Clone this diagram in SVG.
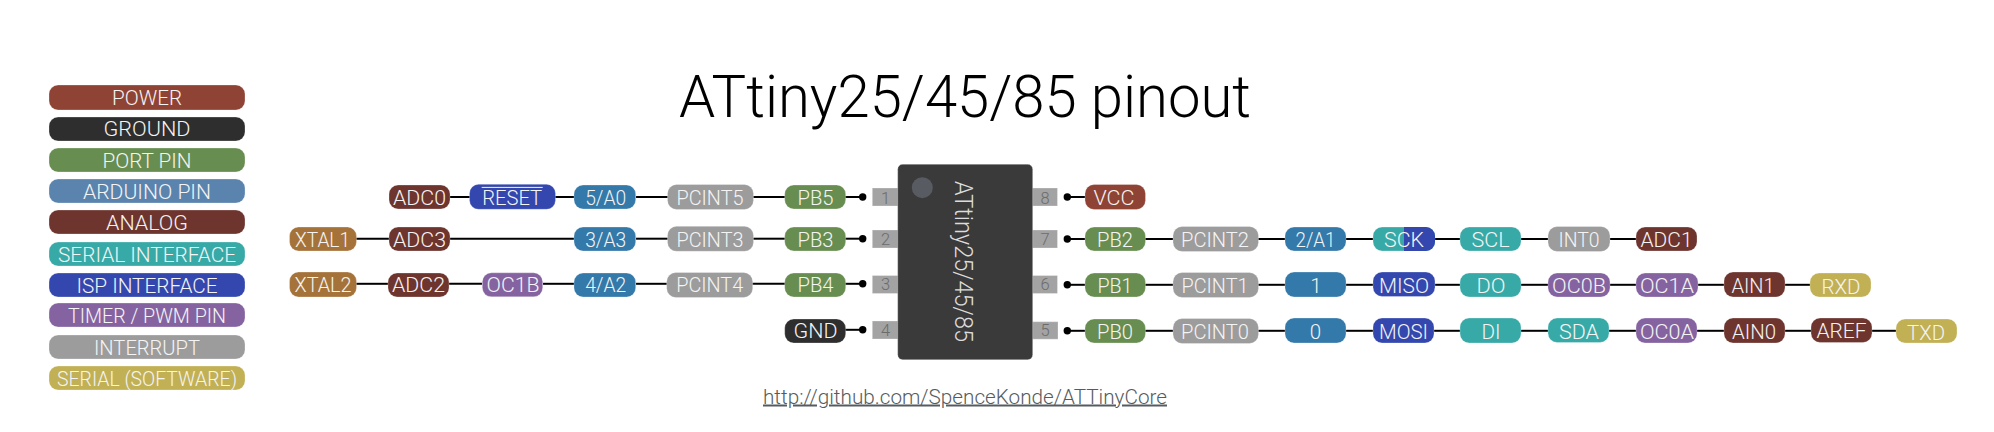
<svg xmlns="http://www.w3.org/2000/svg" width="1994" height="432" viewBox="0 0 1994 432">
<style>
text{font-family:"Roboto","Liberation Sans",sans-serif;font-weight:300}
.t{fill:#f4f4f4;font-size:20.5px;text-anchor:middle}
.l{fill:#f4f4f4;font-size:20px;text-anchor:middle}
rect{stroke:#fff;stroke-opacity:.28;stroke-width:1}
.pw{fill:#8f4335}.gn{fill:#2e2e2e}.pt{fill:#678e50}.ar{fill:#5a84ad}.ad{fill:#3379a9}.an{fill:#6e342e}.se{fill:#37aaa8}.is{fill:#3347ae}.ti{fill:#8563a1}.ir{fill:#9c9c9c}.so{fill:#c2b055}.xt{fill:#a57339}
.c line{stroke:#000;stroke-width:2}
.c circle{fill:#000}
.pin{fill:#a3a3a3}
.num{fill:#6c6c6c;font-size:16.5px;text-anchor:middle}
</style>
<g id="legend">
<g id="lg-power"><rect class="pw" x="49" y="85" width="196" height="25" rx="9"/><text class="l" x="147" y="105" textLength="70" lengthAdjust="spacingAndGlyphs">POWER</text></g>
<g id="lg-ground"><rect class="gn" x="49" y="117" width="196" height="24" rx="9"/><text class="l" x="147" y="136" textLength="87" lengthAdjust="spacingAndGlyphs">GROUND</text></g>
<g id="lg-port"><rect class="pt" x="49" y="148" width="196" height="24" rx="9"/><text class="l" x="147" y="167.500" textLength="89" lengthAdjust="spacingAndGlyphs">PORT PIN</text></g>
<g id="lg-arduino"><rect class="ar" x="49" y="179" width="196" height="24" rx="9"/><text class="l" x="147" y="199" textLength="128" lengthAdjust="spacingAndGlyphs">ARDUINO PIN</text></g>
<g id="lg-analog"><rect class="an" x="49" y="210" width="196" height="24" rx="9"/><text class="l" x="147" y="230" textLength="82" lengthAdjust="spacingAndGlyphs">ANALOG</text></g>
<g id="lg-serial"><rect class="se" x="49" y="242" width="196" height="24" rx="9"/><text class="l" x="147" y="261.500" textLength="178" lengthAdjust="spacingAndGlyphs">SERIAL INTERFACE</text></g>
<g id="lg-isp"><rect class="is" x="49" y="273" width="196" height="24" rx="9"/><text class="l" x="147" y="293" textLength="141" lengthAdjust="spacingAndGlyphs">ISP INTERFACE</text></g>
<g id="lg-timer"><rect class="ti" x="49" y="303" width="196" height="24" rx="9"/><text class="l" x="147" y="323" textLength="158" lengthAdjust="spacingAndGlyphs">TIMER / PWM PIN</text></g>
<g id="lg-interrupt"><rect class="ir" x="49" y="335" width="196" height="24" rx="9"/><text class="l" x="147" y="354.500" textLength="106" lengthAdjust="spacingAndGlyphs">INTERRUPT</text></g>
<g id="lg-software"><rect class="so" x="49" y="366" width="196" height="24" rx="9"/><text class="l" x="147" y="385.500" textLength="180" lengthAdjust="spacingAndGlyphs">SERIAL (SOFTWARE)</text></g>
</g>
<text id="title" x="679" y="117" font-size="60" fill="#000" textLength="572" lengthAdjust="spacingAndGlyphs">ATtiny25/45/85 pinout</text>
<g id="connectors" class="c">
<line x1="450" y1="197" x2="470" y2="197"/><line x1="555" y1="197" x2="574" y2="197"/><line x1="636" y1="197" x2="668" y2="197"/><line x1="753" y1="197" x2="785" y2="197"/><line x1="845" y1="197" x2="862" y2="197"/>
<line x1="356" y1="238.700" x2="389" y2="238.700"/><line x1="450" y1="238.700" x2="574" y2="238.700"/><line x1="636" y1="238.700" x2="668" y2="238.700"/><line x1="753" y1="238.700" x2="785" y2="238.700"/><line x1="845" y1="238.700" x2="862" y2="238.700"/>
<line x1="356" y1="283.800" x2="388" y2="283.800"/><line x1="449" y1="283.800" x2="482" y2="283.800"/><line x1="543" y1="283.800" x2="574" y2="283.800"/><line x1="636" y1="283.800" x2="667" y2="283.800"/><line x1="752" y1="283.800" x2="785" y2="283.800"/><line x1="845" y1="283.800" x2="862" y2="283.800"/>
<line x1="845" y1="329.800" x2="862" y2="329.800"/>
<circle cx="862.700" cy="197" r="3.700"/><circle cx="862.700" cy="238.700" r="3.700"/><circle cx="862.700" cy="283.800" r="3.700"/><circle cx="862.700" cy="329.800" r="3.700"/>
<line x1="1067" y1="197" x2="1085" y2="197"/>
<line x1="1067" y1="239" x2="1085" y2="239"/><line x1="1145" y1="239" x2="1173" y2="239"/><line x1="1258" y1="239" x2="1285" y2="239"/><line x1="1346" y1="239" x2="1373" y2="239"/><line x1="1435" y1="239" x2="1460" y2="239"/><line x1="1521" y1="239" x2="1548" y2="239"/><line x1="1610" y1="239" x2="1636" y2="239"/>
<line x1="1067" y1="284.800" x2="1085" y2="284.800"/><line x1="1145" y1="284.800" x2="1173" y2="284.800"/><line x1="1258" y1="284.800" x2="1285" y2="284.800"/><line x1="1346" y1="284.800" x2="1373" y2="284.800"/><line x1="1435" y1="284.800" x2="1460" y2="284.800"/><line x1="1521" y1="284.800" x2="1548" y2="284.800"/><line x1="1610" y1="284.800" x2="1636" y2="284.800"/><line x1="1698" y1="284.800" x2="1724" y2="284.800"/><line x1="1785" y1="284.800" x2="1810" y2="284.800"/>
<line x1="1067" y1="330.800" x2="1085" y2="330.800"/><line x1="1145" y1="330.800" x2="1173" y2="330.800"/><line x1="1258" y1="330.800" x2="1285" y2="330.800"/><line x1="1346" y1="330.800" x2="1373" y2="330.800"/><line x1="1434" y1="330.800" x2="1460" y2="330.800"/><line x1="1521" y1="330.800" x2="1548" y2="330.800"/><line x1="1609" y1="330.800" x2="1636" y2="330.800"/><line x1="1697" y1="330.800" x2="1724" y2="330.800"/><line x1="1785" y1="330.800" x2="1811" y2="330.800"/><line x1="1872" y1="330.800" x2="1896" y2="330.800"/>
<circle cx="1067.300" cy="197" r="3.700"/><circle cx="1067.300" cy="239" r="3.700"/><circle cx="1067.300" cy="284.800" r="3.700"/><circle cx="1067.300" cy="330.800" r="3.700"/>
</g>
<g id="chip">
<rect class="pin" x="872.300" y="188" width="26" height="18"/><rect class="pin" x="872.300" y="230" width="26" height="18"/><rect class="pin" x="872.300" y="275.500" width="26" height="18"/><rect class="pin" x="872.300" y="321" width="26" height="18"/>
<rect class="pin" x="1032" y="188" width="25.500" height="18"/><rect class="pin" x="1032" y="230" width="25.500" height="18"/><rect class="pin" x="1032" y="275.500" width="25.500" height="18"/><rect class="pin" x="1032" y="321.700" width="26" height="17.500"/>
<text class="num" x="885.500" y="204">1</text><text class="num" x="885.500" y="244.500">2</text><text class="num" x="885.500" y="290">3</text><text class="num" x="885.500" y="336">4</text>
<text class="num" x="1045" y="204">8</text><text class="num" x="1045" y="244.500">7</text><text class="num" x="1045" y="290">6</text><text class="num" x="1045" y="336">5</text>
<rect x="897.700" y="164.300" width="135" height="195.400" rx="5" fill="#3a3a3a"/>
<circle cx="922.300" cy="187.700" r="10.500" fill="#585c62"/>
<text transform="translate(955 181) rotate(90)" font-size="26.500" fill="#dcdcdc" textLength="161" lengthAdjust="spacingAndGlyphs">ATtiny25/45/85</text>
</g>
<g id="n-adc0"><rect class="an" x="389" y="185" width="61" height="24" rx="9"/><text class="t" x="419.500" y="205" textLength="53" lengthAdjust="spacingAndGlyphs">ADC0</text></g>
<g id="n-reset"><rect class="is" x="469.500" y="184.300" width="86" height="25" rx="9"/><line x1="481.700" y1="187.400" x2="542.700" y2="187.400" stroke="#f4f4f4" stroke-width="1"/><text class="t" x="512.200" y="205" textLength="60" lengthAdjust="spacingAndGlyphs">RESET</text></g>
<g id="n-5a0"><rect class="ad" x="574" y="185" width="61.700" height="24" rx="9"/><text class="t" x="605.700" y="205" textLength="41" lengthAdjust="spacingAndGlyphs">5/A0</text></g>
<g id="n-pcint5"><rect class="ir" x="667.500" y="184.500" width="86" height="25" rx="9"/><text class="t" x="710" y="205" textLength="67" lengthAdjust="spacingAndGlyphs">PCINT5</text></g>
<g id="n-pb5"><rect class="pt" x="784.700" y="185" width="61" height="24" rx="9"/><text class="t" x="815.500" y="205" textLength="36" lengthAdjust="spacingAndGlyphs">PB5</text></g>
<g id="n-xtal1"><rect class="xt" x="289.500" y="227" width="67" height="24" rx="9"/><text class="t" x="322.500" y="247" textLength="55" lengthAdjust="spacingAndGlyphs">XTAL1</text></g>
<g id="n-adc3"><rect class="an" x="389" y="227" width="61" height="24" rx="9"/><text class="t" x="419.500" y="247" textLength="53" lengthAdjust="spacingAndGlyphs">ADC3</text></g>
<g id="n-3a3"><rect class="ad" x="574" y="227" width="61.700" height="24" rx="9"/><text class="t" x="605.700" y="246.700" textLength="41" lengthAdjust="spacingAndGlyphs">3/A3</text></g>
<g id="n-pcint3"><rect class="ir" x="667.500" y="226.300" width="86" height="25" rx="9"/><text class="t" x="710" y="246.700" textLength="67" lengthAdjust="spacingAndGlyphs">PCINT3</text></g>
<g id="n-pb3"><rect class="pt" x="784.700" y="227" width="61" height="24" rx="9"/><text class="t" x="815.500" y="246.700" textLength="36" lengthAdjust="spacingAndGlyphs">PB3</text></g>
<g id="n-xtal2"><rect class="xt" x="289.500" y="272" width="67" height="25" rx="9"/><text class="t" x="323" y="292" textLength="57" lengthAdjust="spacingAndGlyphs">XTAL2</text></g>
<g id="n-adc2"><rect class="an" x="388" y="273" width="61" height="24" rx="9"/><text class="t" x="418.500" y="292.300" textLength="53" lengthAdjust="spacingAndGlyphs">ADC2</text></g>
<g id="n-oc1b"><rect class="ti" x="482.300" y="272.800" width="60.400" height="24" rx="9"/><text class="t" x="513" y="292.300" textLength="53" lengthAdjust="spacingAndGlyphs">OC1B</text></g>
<g id="n-4a2"><rect class="ad" x="574" y="273" width="61.700" height="24" rx="9"/><text class="t" x="605.700" y="292.300" textLength="41" lengthAdjust="spacingAndGlyphs">4/A2</text></g>
<g id="n-pcint4"><rect class="ir" x="666.700" y="272.500" width="86" height="25" rx="9"/><text class="t" x="709.700" y="292.300" textLength="67" lengthAdjust="spacingAndGlyphs">PCINT4</text></g>
<g id="n-pb4"><rect class="pt" x="784.700" y="273" width="61" height="24" rx="9"/><text class="t" x="815.500" y="292.300" textLength="36" lengthAdjust="spacingAndGlyphs">PB4</text></g>
<g id="n-gnd"><rect class="gn" x="784.700" y="319" width="61" height="24" rx="9"/><text class="t" x="815.500" y="338" textLength="44" lengthAdjust="spacingAndGlyphs">GND</text></g>
<g id="n-vcc"><rect class="pw" x="1085" y="184.500" width="60.500" height="25" rx="9"/><text class="t" x="1114" y="205" textLength="41" lengthAdjust="spacingAndGlyphs">VCC</text></g>
<g id="n-pb2"><rect class="pt" x="1085" y="227" width="60.500" height="24" rx="9"/><text class="t" x="1115" y="247" textLength="36" lengthAdjust="spacingAndGlyphs">PB2</text></g>
<g id="n-pcint2"><rect class="ir" x="1173" y="226.500" width="85.500" height="25" rx="9"/><text class="t" x="1215" y="247" textLength="68" lengthAdjust="spacingAndGlyphs">PCINT2</text></g>
<g id="n-2a1"><rect class="ad" x="1285" y="227" width="61" height="24" rx="9"/><text class="t" x="1315.500" y="247" textLength="40" lengthAdjust="spacingAndGlyphs">2/A1</text></g>
<g id="n-sck"><rect class="se" x="1373" y="227" width="62" height="24" rx="9"/><path class="is" d="M1404 227H1426a9 9 0 0 1 9 9V242a9 9 0 0 1-9 9H1404Z"/><text class="t" x="1404" y="247" textLength="40" lengthAdjust="spacingAndGlyphs">SCK</text></g>
<g id="n-scl"><rect class="se" x="1460" y="227" width="61" height="24" rx="9"/><text class="t" x="1490.500" y="247" textLength="38" lengthAdjust="spacingAndGlyphs">SCL</text></g>
<g id="n-int0"><rect class="ir" x="1548" y="226.500" width="62" height="25" rx="9"/><text class="t" x="1579" y="247" textLength="41" lengthAdjust="spacingAndGlyphs">INT0</text></g>
<g id="n-adc1"><rect class="an" x="1636" y="227" width="61" height="24" rx="9"/><text class="t" x="1666.500" y="247" textLength="52" lengthAdjust="spacingAndGlyphs">ADC1</text></g>
<g id="n-pb1"><rect class="pt" x="1085" y="273" width="60.500" height="24" rx="9"/><text class="t" x="1115" y="293" textLength="35" lengthAdjust="spacingAndGlyphs">PB1</text></g>
<g id="n-pcint1"><rect class="ir" x="1173" y="272.500" width="85.500" height="25" rx="9"/><text class="t" x="1215" y="293" textLength="67" lengthAdjust="spacingAndGlyphs">PCINT1</text></g>
<g id="n-1"><rect class="ad" x="1285" y="272" width="61" height="25" rx="9"/><text class="t" x="1316" y="293">1</text></g>
<g id="n-miso"><rect class="is" x="1373" y="272" width="62" height="24.500" rx="9"/><text class="t" x="1404" y="293" textLength="50" lengthAdjust="spacingAndGlyphs">MISO</text></g>
<g id="n-do"><rect class="se" x="1460" y="273" width="61" height="24" rx="9"/><text class="t" x="1491" y="293" textLength="29" lengthAdjust="spacingAndGlyphs">DO</text></g>
<g id="n-oc0b"><rect class="ti" x="1548" y="273" width="62" height="24" rx="9"/><text class="t" x="1579" y="293" textLength="54" lengthAdjust="spacingAndGlyphs">OC0B</text></g>
<g id="n-oc1a"><rect class="ti" x="1636" y="273" width="62" height="24" rx="9"/><text class="t" x="1667" y="293" textLength="54" lengthAdjust="spacingAndGlyphs">OC1A</text></g>
<g id="n-ain1"><rect class="an" x="1724" y="272" width="61" height="25" rx="9"/><text class="t" x="1753" y="293" textLength="43" lengthAdjust="spacingAndGlyphs">AIN1</text></g>
<g id="n-rxd"><rect class="so" x="1810" y="273" width="61" height="24" rx="9"/><text class="t" x="1841" y="293.500" textLength="39" lengthAdjust="spacingAndGlyphs">RXD</text></g>
<g id="n-pb0"><rect class="pt" x="1085" y="319" width="60.500" height="24" rx="9"/><text class="t" x="1115" y="339" textLength="36" lengthAdjust="spacingAndGlyphs">PB0</text></g>
<g id="n-pcint0"><rect class="ir" x="1173" y="318.500" width="85.500" height="25" rx="9"/><text class="t" x="1215" y="339" textLength="68" lengthAdjust="spacingAndGlyphs">PCINT0</text></g>
<g id="n-0"><rect class="ad" x="1285" y="318" width="61" height="25" rx="9"/><text class="t" x="1315.500" y="339">0</text></g>
<g id="n-mosi"><rect class="is" x="1373" y="318" width="61" height="25" rx="9"/><text class="t" x="1403.500" y="339" textLength="49" lengthAdjust="spacingAndGlyphs">MOSI</text></g>
<g id="n-di"><rect class="se" x="1460" y="318" width="61" height="25" rx="9"/><text class="t" x="1491" y="339" textLength="19" lengthAdjust="spacingAndGlyphs">DI</text></g>
<g id="n-sda"><rect class="se" x="1548" y="318" width="61" height="24.500" rx="9"/><text class="t" x="1579" y="339" textLength="40" lengthAdjust="spacingAndGlyphs">SDA</text></g>
<g id="n-oc0a"><rect class="ti" x="1636" y="318" width="61" height="25" rx="9"/><text class="t" x="1667" y="339" textLength="54" lengthAdjust="spacingAndGlyphs">OC0A</text></g>
<g id="n-ain0"><rect class="an" x="1724" y="318" width="61" height="25" rx="9"/><text class="t" x="1754" y="339" textLength="44" lengthAdjust="spacingAndGlyphs">AIN0</text></g>
<g id="n-aref"><rect class="an" x="1811" y="318" width="61" height="24.500" rx="9"/><text class="t" x="1841.500" y="338" textLength="50" lengthAdjust="spacingAndGlyphs">AREF</text></g>
<g id="n-txd"><rect class="so" x="1896" y="319" width="61" height="24" rx="9"/><text class="t" x="1926" y="340" textLength="38" lengthAdjust="spacingAndGlyphs">TXD</text></g>
<text id="url" x="763" y="403.500" font-size="20" fill="#555c60" textLength="404" lengthAdjust="spacingAndGlyphs" text-decoration="underline">http://github.com/SpenceKonde/ATTinyCore</text>
</svg>
